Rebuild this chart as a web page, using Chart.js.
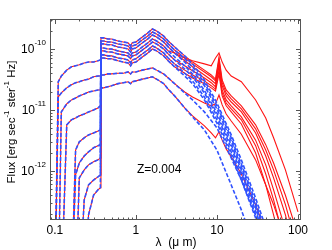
<!DOCTYPE html>
<html>
<head>
<meta charset="utf-8">
<script src="https://cdn.jsdelivr.net/npm/chart.js@4.4.0/dist/chart.umd.min.js"></script>
<style>
  html, body { margin: 0; padding: 0; background: #fff; }
  canvas { display: block; }
</style>
</head>
<body>
<canvas id="sed" width="332" height="250"></canvas>
<script>
// wavelength grid (micron) of the stellar spectra
const wave = [0.09, 0.1, 0.11, 0.12, 0.14, 0.16, 0.18, 0.2, 0.23, 0.26, 0.3, 0.34, 0.364, 0.37, 0.4, 0.45, 0.5, 0.6, 0.7, 0.8, 0.86, 0.9, 1.0, 1.2, 1.4, 1.6, 1.8, 2.2, 2.5, 3, 4, 5, 7, 10, 15, 20, 30, 50, 100];
// wavelength grid of the dusty tails (red curves beyond 2.5 micron)
const irWave = [3, 4, 5, 7, 8.5, 9.6, 10.6, 11.6, 13, 15, 20, 30, 40, 50, 70, 100];

// stellar flux (blue dashed), erg/s/ster/Hz
const t1Star = [null, null, null, null, null, null, null, null, 1e-14, 1.9e-13, 4.0e-13, 4.9e-13, 5.3e-13, 1.52e-10, 1.52e-10, 1.46e-10, 1.46e-10, 1.35e-10, 1.30e-10, 1.26e-10, 1.12e-10, 1.26e-10, 1.30e-10, 1.57e-10, 1.83e-10, 2.13e-10, 1.97e-10, 1.63e-10, 1.35e-10, 1.08e-10, 7.7e-11, 5.7e-11, 3.1e-11, 1.3e-11, 3.9e-12, 1.52e-12, 3.6e-13, 5.1e-14, 2.5e-15];
const t2Star = [null, null, null, null, null, null, null, 1e-14, 3.35e-13, 5.9e-13, 7.1e-13, 8.0e-13, 8.6e-13, 1.35e-10, 1.35e-10, 1.30e-10, 1.30e-10, 1.21e-10, 1.17e-10, 1.12e-10, 1.0e-10, 1.12e-10, 1.17e-10, 1.41e-10, 1.63e-10, 1.90e-10, 1.76e-10, 1.46e-10, 1.21e-10, 9.6e-11, 6.9e-11, 5.1e-11, 2.8e-11, 1.17e-11, 3.5e-12, 1.3e-12, 3.1e-13, 4.4e-14, 2.0e-15];
const t3Star = [null, null, null, null, null, null, 1e-14, 7.7e-13, 1.04e-12, 1.26e-12, 1.41e-12, 1.52e-12, 1.63e-12, 1.21e-10, 1.21e-10, 1.17e-10, 1.17e-10, 1.08e-10, 1.04e-10, 1.0e-10, 8.9e-11, 1.0e-10, 1.04e-10, 1.26e-10, 1.46e-10, 1.70e-10, 1.57e-10, 1.30e-10, 1.08e-10, 8.6e-11, 6.1e-11, 4.5e-11, 2.5e-11, 1.04e-11, 3.1e-12, 1.17e-12, 2.7e-13, 3.75e-14, 1.7e-15];
const t4Star = [null, null, null, null, null, 1e-14, 8.6e-13, 1.35e-12, 1.76e-12, 2.05e-12, 2.4e-12, 2.6e-12, 2.7e-12, 1.04e-10, 1.04e-10, 1.0e-10, 1.0e-10, 9.3e-11, 8.9e-11, 8.6e-11, 7.7e-11, 8.6e-11, 8.9e-11, 1.08e-10, 1.26e-10, 1.46e-10, 1.35e-10, 1.12e-10, 9.3e-11, 7.4e-11, 5.3e-11, 3.9e-11, 2.1e-11, 8.9e-12, 2.7e-12, 1.04e-12, 2.5e-13, 3.5e-14, 1.7e-15];
const t5Star = [null, null, null, null, null, 1e-14, 2.2e-12, 3.0e-12, 3.5e-12, 3.9e-12, 4.2e-12, 4.5e-12, 4.7e-12, 9.3e-11, 9.3e-11, 8.9e-11, 8.9e-11, 8.3e-11, 8.0e-11, 7.7e-11, 6.9e-11, 7.7e-11, 8.0e-11, 9.6e-11, 1.12e-10, 1.30e-10, 1.21e-10, 1.0e-10, 8.3e-11, 6.6e-11, 4.7e-11, 3.5e-11, 1.9e-11, 8.0e-12, 2.4e-12, 9.3e-13, 2.2e-13, 3.1e-14, 1.5e-15];
const t6Star = [null, null, null, 1e-14, 5.7e-12, 6.9e-12, 7.4e-12, 8.0e-12, 8.6e-12, 9.3e-12, 1.0e-11, 1.08e-11, 1.17e-11, 8.0e-11, 8.0e-11, 7.7e-11, 7.7e-11, 7.1e-11, 6.9e-11, 6.6e-11, 5.9e-11, 6.6e-11, 6.9e-11, 8.3e-11, 9.6e-11, 1.12e-10, 1.04e-10, 8.6e-11, 7.1e-11, 5.7e-11, 4.0e-11, 3.0e-11, 1.63e-11, 6.9e-12, 2.05e-12, 8.0e-13, 1.9e-13, 2.7e-14, 1.3e-15];
const t7Star = [null, 1e-14, 2.9e-11, 3.6e-11, 4.5e-11, 5.1e-11, 5.3e-11, 5.5e-11, 5.9e-11, 6.1e-11, 6.1e-11, 6.4e-11, 6.6e-11, 7.1e-11, 7.1e-11, 6.9e-11, 6.9e-11, 6.4e-11, 6.1e-11, 5.9e-11, 5.3e-11, 5.9e-11, 6.1e-11, 7.4e-11, 8.6e-11, 1.0e-10, 9.3e-11, 7.7e-11, 6.4e-11, 5.1e-11, 3.6e-11, 2.7e-11, 1.46e-11, 6.1e-12, 1.83e-12, 7.1e-13, 1.7e-13, 2.4e-14, 1.2e-15];
const l1Star = [null, 1e-14, 1.63e-11, 1.9e-11, 2.3e-11, 2.6e-11, 2.8e-11, 2.9e-11, 3.1e-11, 3.2e-11, 3.5e-11, 3.6e-11, 3.6e-11, 3.75e-11, 3.75e-11, 3.9e-11, 3.9e-11, 4.0e-11, 4.0e-11, 4.2e-11, 3.9e-11, 4.2e-11, 4.2e-11, 4.5e-11, 4.7e-11, 4.9e-11, 4.5e-11, 3.9e-11, 3.35e-11, 2.7e-11, 1.9e-11, 1.46e-11, 9.3e-12, 5.1e-12, 1.63e-12, 7.1e-13, 1.9e-13, 2.9e-14, 1.4e-15];
const l2Star = [null, null, 1e-14, 9.3e-12, 1.26e-11, 1.46e-11, 1.57e-11, 1.7e-11, 1.83e-11, 1.97e-11, 2.05e-11, 2.13e-11, 2.13e-11, 2.3e-11, 2.3e-11, 2.4e-11, 2.5e-11, 2.7e-11, 2.8e-11, 2.9e-11, 2.7e-11, 2.9e-11, 3.0e-11, 3.2e-11, 3.35e-11, 3.5e-11, 3.2e-11, 2.7e-11, 2.2e-11, 1.7e-11, 1.08e-11, 7.7e-12, 4.7e-12, 2.2e-12, 5.9e-13, 2.3e-13, 5.1e-14, 7.7e-15, 3.7e-16];

// dusty flux beyond 2.5 micron (red solid), on irWave
const t1Dust = [1.08e-10, 7.7e-11, 6.1e-11, 4.5e-11, 3.75e-11, 3.2e-11, 7.4e-11, 3.1e-11, 2.13e-11, 1.7e-11, 1.17e-11, 5.7e-12, 2.7e-12, 1.35e-12, 4.0e-13, 8.9e-14];
const t2Dust = [9.6e-11, 7.1e-11, 5.7e-11, 4.2e-11, 3.5e-11, 3.0e-11, 6.6e-11, 2.8e-11, 1.9e-11, 1.52e-11, 1.04e-11, 4.9e-12, 2.2e-12, 1.04e-12, 2.8e-13, 5.1e-14];
const t3Dust = [8.6e-11, 6.4e-11, 5.1e-11, 3.75e-11, 3.1e-11, 2.7e-11, 5.9e-11, 2.5e-11, 1.7e-11, 1.35e-11, 9.3e-12, 4.2e-12, 1.76e-12, 7.7e-13, 1.9e-13, 2.9e-14];
const t4Dust = [8.6e-11, 7.1e-11, 6.4e-11, 5.7e-11, 5.3e-11, 7.1e-11, 8.6e-11, 6.1e-11, 4.5e-11, 3.6e-11, 2.9e-11, 1.46e-11, 7.4e-12, 3.5e-12, 1.04e-12, 2.13e-13];
const t5Dust = [6.6e-11, 5.3e-11, 4.4e-11, 3.35e-11, 2.8e-11, 2.4e-11, 5.3e-11, 2.13e-11, 1.46e-11, 1.17e-11, 7.7e-12, 3.2e-12, 1.26e-12, 4.9e-13, 1.08e-13, 1.12e-14];
const t6Dust = [5.7e-11, 4.5e-11, 3.75e-11, 3.0e-11, 2.5e-11, 2.2e-11, 4.5e-11, 1.9e-11, 1.3e-11, 1.04e-11, 6.9e-12, 2.6e-12, 8.9e-13, 3.35e-13, 6.1e-14, 7.7e-15];
const t7Dust = [5.1e-11, 4.0e-11, 3.35e-11, 2.7e-11, 2.3e-11, 2.05e-11, 3.9e-11, 1.7e-11, 1.17e-11, 9.3e-12, 5.9e-12, 1.97e-12, 5.9e-13, 1.9e-13, 2.9e-14, 3.6e-15];
const l1Dust = [2.7e-11, 1.97e-11, 1.63e-11, 1.3e-11, 1.17e-11, 1.26e-11, 1.76e-11, 1.21e-11, 8.6e-12, 6.6e-12, 4.0e-12, 1.52e-12, 5.9e-13, 2.8e-13, 7.4e-14, 1.12e-14];
const l2Dust = [1.7e-11, 1.08e-11, 8.0e-12, 5.5e-12, 4.2e-12, 3.5e-12, 4.4e-12, 3.2e-12, 2.3e-12, 1.7e-12, 8.9e-13, 2.8e-13, 1.0e-13, 4.2e-14, 9.3e-15, 1.2e-15];

const xTicks = [0.1, 1, 10, 100];
const xTickLabels = ["0.1", "1", "10", "100"];
const yTicks = [1e-10, 1e-11, 1e-12];
const yTickExp = ["-10", "-11", "-12"];

const models = [
    [t1Star, t1Dust], [t2Star, t2Dust], [t3Star, t3Dust], [t4Star, t4Dust],
    [t5Star, t5Dust], [t6Star, t6Dust], [t7Star, t7Dust], [l1Star, l1Dust], [l2Star, l2Dust]
];
const SHARED = 29; // points up to 2.5 micron are common to both curves

function points(xs, ys) {
    return xs.map((x, i) => ({ x: x, y: ys[i] }));
}

const datasets = [];
models.forEach(([star, dust]) => {
    datasets.push({
        data: points(wave, star),
        borderColor: "#3052ff",
        borderWidth: 1.6,
        borderDash: [4, 2],
        order: 0
    });
    datasets.push({
        data: points(wave.slice(0, SHARED).concat(irWave), star.slice(0, SHARED).concat(dust)),
        borderColor: "#ff1414",
        borderWidth: 1.1,
        order: 1
    });
});

const FONT = "'Liberation Sans', Arial, sans-serif";

const frame = {
    id: "frame",
    afterDraw(chart) {
        const { ctx, chartArea: a, scales: { x, y } } = chart;
        ctx.save();
        ctx.strokeStyle = "#555";
        ctx.lineWidth = 1;
        ctx.strokeRect(a.left + 0.5, a.top + 0.5, a.right - a.left - 1, a.bottom - a.top - 1);

        ctx.beginPath();
        for (let d = -2; d <= 2; d++) {
            for (let m = 1; m < 10; m++) {
                const v = m * Math.pow(10, d);
                if (v < x.min || v > x.max) continue;
                const px = Math.round(x.getPixelForValue(v)) + 0.5;
                const len = m === 1 ? 5 : 2.5;
                ctx.moveTo(px, a.bottom); ctx.lineTo(px, a.bottom - len);
                ctx.moveTo(px, a.top); ctx.lineTo(px, a.top + len);
            }
        }
        for (let d = -14; d <= -9; d++) {
            for (let m = 1; m < 10; m++) {
                const v = m * Math.pow(10, d);
                if (v < y.min || v > y.max) continue;
                const py = Math.round(y.getPixelForValue(v)) + 0.5;
                const len = m === 1 ? 5 : 2.5;
                ctx.moveTo(a.left, py); ctx.lineTo(a.left + len, py);
                ctx.moveTo(a.right, py); ctx.lineTo(a.right - len, py);
            }
        }
        ctx.stroke();

        ctx.fillStyle = "#000";
        ctx.font = "12px " + FONT;
        ctx.textAlign = "center";
        ctx.textBaseline = "middle";
        xTicks.forEach((v, i) => {
            ctx.fillText(xTickLabels[i], x.getPixelForValue(v), a.bottom + 11);
        });

        yTicks.forEach((v, i) => {
            const py = y.getPixelForValue(v);
            ctx.font = "8px " + FONT;
            const ew = ctx.measureText(yTickExp[i]).width;
            ctx.textAlign = "left";
            ctx.fillText(yTickExp[i], a.left - 4 - ew, py - 6);
            ctx.font = "12px " + FONT;
            ctx.textAlign = "right";
            ctx.fillText("10", a.left - 4 - ew, py + 1);
        });

        // x title
        ctx.font = "12px " + FONT;
        ctx.textAlign = "center";
        ctx.fillText("\u03bb  (\u03bc m)", 176, 243);

        // y title, rotated, with superscripts
        const parts = [["Flux [erg sec", 0], ["-1", 1], [" ster", 0], ["-1", 1], [" Hz]", 0]];
        ctx.save();
        ctx.translate(12, 122);
        ctx.rotate(-Math.PI / 2);
        let total = 0;
        parts.forEach(([t, s]) => {
            ctx.font = (s ? "8px " : "11.5px ") + FONT;
            total += ctx.measureText(t).width;
        });
        let cx = -total / 2;
        ctx.textAlign = "left";
        parts.forEach(([t, s]) => {
            ctx.font = (s ? "8px " : "11.5px ") + FONT;
            ctx.fillText(t, cx, s ? -5 : 0);
            cx += ctx.measureText(t).width;
        });
        ctx.restore();

        ctx.font = "12px " + FONT;
        ctx.textAlign = "left";
        ctx.fillText("Z=0.004", 137, 170);
        ctx.restore();
    }
};

new Chart(document.getElementById("sed"), {
    type: "line",
    data: { datasets: datasets },
    options: {
        responsive: false,
        animation: false,
        devicePixelRatio: 1,
        layout: { padding: { left: 50, right: 31, top: 19, bottom: 30 } },
        elements: { point: { radius: 0 }, line: { tension: 0 } },
        plugins: { legend: { display: false }, tooltip: { enabled: false } },
        scales: {
            x: { type: "logarithmic", min: 0.087, max: 109, bounds: "data", display: false },
            y: { type: "logarithmic", min: 1.57e-13, max: 3.1e-10, bounds: "data", display: false }
        }
    },
    plugins: [frame]
});
</script>
</body>
</html>
